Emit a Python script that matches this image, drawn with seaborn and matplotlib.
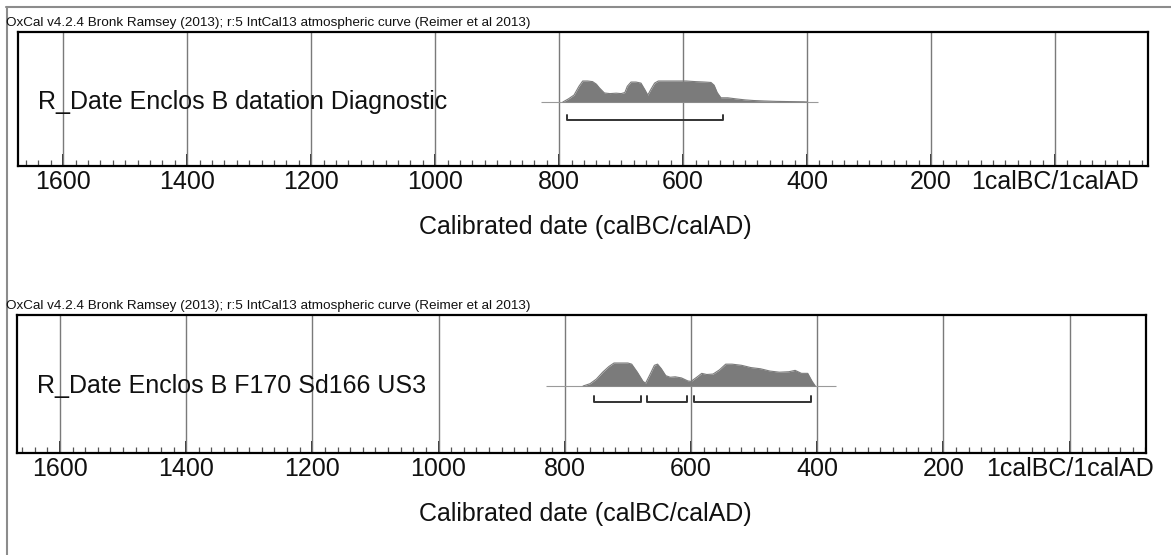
import numpy as np
import pandas as pd
import matplotlib.pyplot as plt
import matplotlib.ticker as mticker
from matplotlib.lines import Line2D
import seaborn as sns

sns.set_style("white")
plt.rcParams["font.family"] = ["Liberation Sans", "DejaVu Sans"]

# header and labels
header = "OxCal v4.2.4 Bronk Ramsey (2013); r:5 IntCal13 atmospheric curve (Reimer et al 2013)"
xlabel = "Calibrated date (calBC/calAD)"
tick_years = [1600, 1400, 1200, 1000, 800, 600, 400, 200, 0]
tick_labels = ["1600", "1400", "1200", "1000", "800", "600", "400", "200", "1calBC/1calAD"]

# sample 1 : R_Date Enclos B datation Diagnostic (years calBC, relative probability)
name_1 = "R_Date Enclos B datation Diagnostic"
years_1 = [794, 785, 776, 768, 762, 754, 746, 740, 735, 727, 718, 708, 700, 694,
           690, 684, 676, 668, 662, 657, 652, 646, 640, 625, 610, 595, 580,
           565, 555, 550, 545, 539, 528, 515, 500, 486, 470, 450, 430, 405, 400]
prob_1 = [0.0, 0.15, 0.33, 0.75, 1.0, 1.0, 0.97, 0.85, 0.67, 0.43, 0.4, 0.42, 0.4, 0.45,
          0.75, 0.95, 0.95, 0.9, 0.6, 0.33, 0.6, 0.9, 1.0, 1.0, 1.0, 1.0, 0.97,
          0.95, 0.93, 0.8, 0.45, 0.2, 0.2, 0.15, 0.1, 0.07, 0.05, 0.03, 0.02, 0.01, 0.0]
range_1 = [(787, 535)]
line_1 = (829, 382)

# sample 2 : R_Date Enclos B F170 Sd166 US3
name_2 = "R_Date Enclos B F170 Sd166 US3"
years_2 = [771, 760, 750, 740, 730, 722, 700, 694, 685, 676, 672, 665, 658, 653,
           647, 640, 633, 625, 615, 605, 600, 590, 583, 575, 565, 555, 545, 535,
           520, 505, 490, 475, 460, 445, 435, 425, 415, 408, 403]
prob_2 = [0.0, 0.1, 0.3, 0.6, 0.85, 1.0, 1.0, 0.95, 0.6, 0.2, 0.12, 0.5, 0.9, 0.95,
          0.75, 0.45, 0.38, 0.4, 0.35, 0.22, 0.2, 0.4, 0.55, 0.5, 0.52, 0.7, 0.95, 0.95,
          0.9, 0.8, 0.75, 0.65, 0.6, 0.62, 0.68, 0.55, 0.55, 0.2, 0.0]
range_2 = [(754, 679), (670, 606), (595, 410)]
line_2 = (830, 370)

W, H = 1171, 555
fig = plt.figure(figsize=(W / 100, H / 100), dpi=100)

# outer frame (top and left only)
fig.add_artist(Line2D([6 / W, 1], [1 - 7 / H, 1 - 7 / H], color="#8c8c8c", lw=1.5))
fig.add_artist(Line2D([7 / W, 7 / W], [0, 1 - 7 / H], color="#8c8c8c", lw=1.5))


def panel(box, xlim, ylim, name, years, prob, ranges, base_line, br_y):
    left, top, right, bottom = box
    ax = fig.add_axes([left / W, 1 - bottom / H, (right - left) / W, (bottom - top) / H])
    df = pd.DataFrame({"year": years, "prob": prob})
    ax.set_xlim(*xlim)
    ax.set_ylim(*ylim)
    for t in tick_years:
        ax.axvline(t, color="#7a7a7a", lw=1.0, zorder=1)
    ax.hlines(0, base_line[0], base_line[1], color="#9a9a9a", lw=0.8, zorder=2)
    ax.fill_between(df["year"], 0, df["prob"], color="#7b7b7b", lw=0, zorder=3)
    sns.lineplot(data=df, x="year", y="prob", ax=ax, color="#7b7b7b", lw=0.8,
                 sort=False, zorder=3)
    for a, b in ranges:
        ax.plot([a, a, b, b], [br_y + 0.25, br_y, br_y, br_y + 0.25],
                color="#333333", lw=1.4, zorder=4)
    ax.text(0.0179, 0, name, transform=ax.get_yaxis_transform(),
            fontsize=18, va="center", ha="left", color="#111111", zorder=5)
    ax.set_xticks(tick_years)
    ax.set_xticklabels(tick_labels, fontsize=18, color="#111111")
    ax.xaxis.set_minor_locator(mticker.MultipleLocator(20))
    ax.tick_params(axis="x", which="major", direction="in", length=9, width=1.3,
                   pad=3, bottom=True, color="#222222")
    ax.tick_params(axis="x", which="minor", direction="in", length=4, width=0.9,
                   bottom=True, color="#555555")
    ax.set_yticks([])
    ax.set_ylabel("")
    ax.set_xlabel(xlabel, fontsize=18, color="#111111")
    ax.xaxis.set_label_coords((585 - left) / (right - left), -49 / (bottom - top))
    for s in ax.spines.values():
        s.set_color("black")
        s.set_linewidth(1.6)
    fig.text(6 / W, 1 - (top - 9) / H, header, fontsize=9.7, va="center", ha="left",
             color="#111111")
    return ax


panel((18, 32, 1148, 166), (1673, -150), (-64 / 21, 70 / 21),
      name_1, years_1, prob_1, range_1, line_1, -18 / 21)
panel((17, 315, 1146, 453), (1668, -121), (-67 / 23, 71 / 23),
      name_2, years_2, prob_2, range_2, line_2, -16 / 23)

fig.savefig("out.png", dpi=100)
